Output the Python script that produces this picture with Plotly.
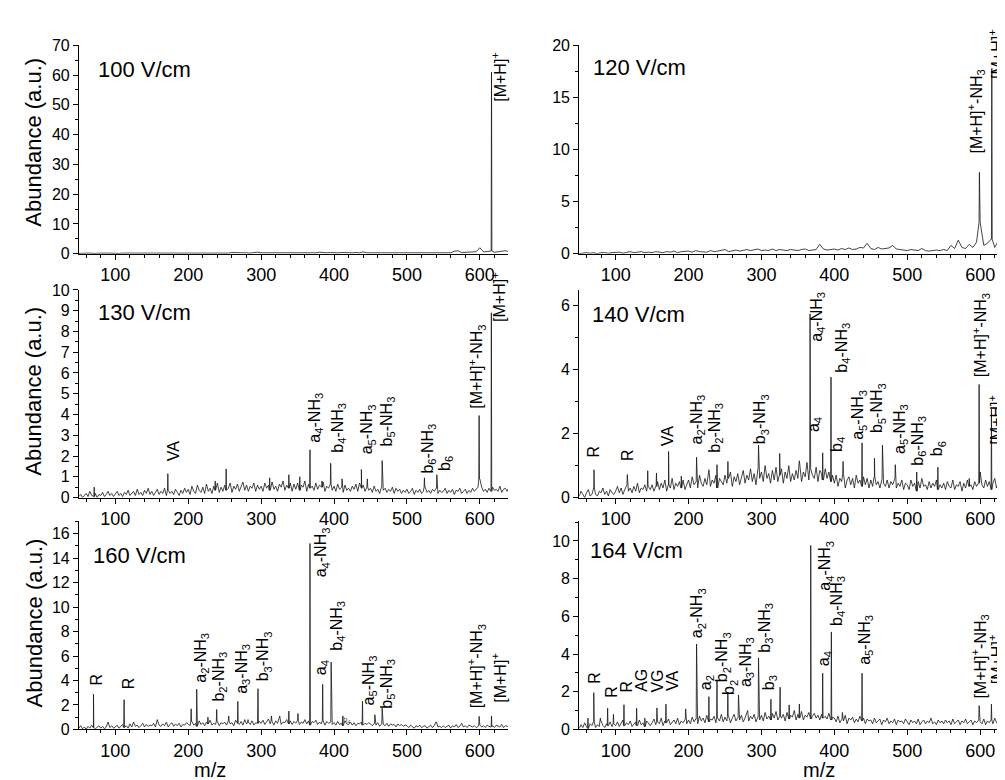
import plotly.graph_objects as go

FONT = "Arial, 'Liberation Sans', Helvetica, sans-serif"

# ---------------- data ----------------
MZ_START = 50
fields = ["100 V/cm", "120 V/cm", "130 V/cm", "140 V/cm", "160 V/cm", "164 V/cm"]
noise_steps = [5, 5, 2.5, 2.5, 2.5, 2.5]   # m/z spacing of background samples per panel

noise_100 = [0.1, 0.2, 0.1, 0.2, 0.1, 0.2, 0.1, 0.2, 0.2, 0.1,
             0.2, 0.1, 0.2, 0.2, 0.1, 0.2, 0.1, 0.2, 0.2, 0.1,
             0.2, 0.2, 0.1, 0.2, 0.3, 0.2, 0.2, 0.1, 0.2, 0.2,
             0.3, 0.2, 0.2, 0.3, 0.2, 0.3, 0.2, 0.2, 0.3, 0.3,
             0.3, 0.2, 0.4, 0.3, 0.2, 0.3, 0.3, 0.2, 0.4, 0.5,
             0.3, 0.3, 0.2, 0.4, 0.3, 0.3, 0.2, 0.3, 0.4, 0.3,
             0.3, 0.4, 0.3, 0.2, 0.4, 0.3, 0.5, 0.3, 0.3, 0.4,
             0.3, 0.3, 0.4, 0.3, 0.3, 0.3, 0.4, 0.3, 0.6, 0.3,
             0.3, 0.4, 0.3, 0.3, 0.4, 0.3, 0.3, 0.4, 0.3, 0.3,
             0.3, 0.3, 0.4, 0.3, 0.3, 0.2, 0.3, 0.4, 0.3, 0.3,
             0.3, 0.4, 0.3, 0.8, 1.0, 0.4, 0.4, 0.5, 0.6, 0.7,
             2.0, 0.6, 0.8, 0.9, 0.5, 0.6, 0.8, 1.0, 0.7, 1.4]
peak_mz_100 = [616.0]
peak_h_100 = [61.0]

noise_120 = [0.0, 0.05, 0.1, 0.05, 0.1, 0.0, 0.1, 0.1, 0.05, 0.1,
             0.1, 0.15, 0.05, 0.1, 0.2, 0.1, 0.15, 0.2, 0.1, 0.15,
             0.1, 0.2, 0.15, 0.1, 0.2, 0.15, 0.25, 0.1, 0.2, 0.2,
             0.25, 0.15, 0.3, 0.2, 0.2, 0.15, 0.3, 0.2, 0.25, 0.3,
             0.4, 0.2, 0.3, 0.35, 0.25, 0.3, 0.4, 0.3, 0.35, 0.45,
             0.3, 0.35, 0.3, 0.45, 0.3, 0.4, 0.35, 0.3, 0.4, 0.35,
             0.3, 0.4, 0.45, 0.3, 0.35, 0.4, 0.9, 0.45, 0.35, 0.4,
             0.45, 0.35, 0.5, 0.4, 0.55, 0.4, 0.45, 0.6, 0.55, 1.0,
             0.5, 0.4, 0.6, 0.45, 0.5, 0.55, 0.8, 0.45, 0.4, 0.35,
             0.3, 0.4, 0.35, 0.3, 0.5, 0.3, 0.25, 0.3, 0.35, 0.3,
             0.4, 0.3, 0.8, 0.5, 1.3, 0.6, 0.5, 0.9, 0.6, 1.1,
             3.0, 0.8, 1.0, 1.4, 0.6, 1.2, 1.9, 0.9, 0.7, 1.0]
peak_mz_120 = [599.0, 616.0]
peak_h_120 = [7.8, 17.8]

noise_130 = [0.05, 0.15, 0.0, 0.1, 0.2, 0.05, 0.3, 0.1, 0.05, 0.2, 0.0, 0.15, 0.1, 0.25, 0.05, 0.15, 0.3, 0.1, 0.2, 0.05,
             0.15, 0.3, 0.1, 0.2, 0.05, 0.25, 0.15, 0.35, 0.1, 0.2, 0.3, 0.1, 0.4, 0.15, 0.25, 0.1, 0.35, 0.2, 0.45, 0.15,
             0.3, 0.1, 0.25, 0.4, 0.15, 0.3, 0.2, 0.45, 0.1, 0.35, 0.2, 0.3, 0.15, 0.4, 0.25, 0.1, 0.35, 0.2, 0.45, 0.25,
             0.4, 0.15, 0.55, 0.3, 0.2, 0.6, 0.35, 0.25, 0.5, 0.2, 0.65, 0.3, 0.45, 0.2, 0.55, 0.35, 0.7, 0.25, 0.5, 0.3,
             0.6, 0.35, 0.45, 0.7, 0.25, 0.55, 0.4, 0.65, 0.3, 0.5, 0.75, 0.35, 0.6, 0.3, 0.55, 0.45, 0.7, 0.3, 0.6, 0.4,
             0.55, 0.3, 0.7, 0.45, 0.6, 0.35, 0.75, 0.4, 0.55, 0.3, 0.65, 0.5, 0.8, 0.35, 0.6, 0.45, 0.7, 0.3, 0.65, 0.4,
             0.7, 0.35, 0.6, 0.5, 0.8, 0.3, 0.65, 0.45, 0.55, 0.35, 0.7, 0.4, 0.6, 0.5, 0.75, 0.3, 0.55, 0.45, 0.65, 0.35,
             0.55, 0.3, 0.65, 0.4, 0.5, 0.25, 0.6, 0.35, 0.45, 0.3, 0.55, 0.4, 0.65, 0.3, 0.7, 0.45, 0.6, 0.3, 0.5, 0.35,
             0.45, 0.25, 0.55, 0.3, 0.4, 0.2, 0.5, 0.35, 0.45, 0.25, 0.4, 0.3, 0.5, 0.2, 0.45, 0.3, 0.4, 0.2, 0.35, 0.25,
             0.4, 0.2, 0.3, 0.45, 0.15, 0.35, 0.25, 0.4, 0.2, 0.3, 0.5, 0.25, 0.35, 0.2, 0.4, 0.3, 0.45, 0.2, 0.35, 0.25,
             0.3, 0.45, 0.2, 0.35, 0.25, 0.4, 0.15, 0.35, 0.3, 0.45, 0.2, 0.3, 0.4, 0.2, 0.35, 0.25, 0.45, 0.3, 0.4, 0.5,
             0.9, 0.5, 0.3, 0.4, 0.25, 0.45, 0.3, 0.5, 0.35, 0.4, 0.3, 0.55, 0.25, 0.4, 0.45, 0.3, 0.5, 0.35, 0.4, 0.3]
peak_mz_130 = [71, 172, 237, 252, 311.7, 338, 353, 367, 383.5, 395.4, 411,
               437.5, 445.7, 466, 524, 541, 599, 615.8]
peak_h_130 = [0.5, 1.15, 0.8, 1.38, 0.95, 1.1, 1.0, 2.3, 0.8, 1.65, 0.9,
              1.35, 0.9, 1.78, 0.95, 1.1, 3.95, 8.9]

noise_140 = [0.05, 0.2, 0.1, 0.0, 0.15, 0.25, 0.05, 0.1, 0.3, 0.1, 0.05, 0.2, 0.15, 0.3, 0.1, 0.2, 0.05, 0.25, 0.15, 0.1,
             0.2, 0.35, 0.15, 0.3, 0.1, 0.25, 0.4, 0.2, 0.3, 0.15, 0.35, 0.2, 0.45, 0.15, 0.3, 0.25, 0.4, 0.2, 0.35, 0.25,
             0.4, 0.2, 0.35, 0.5, 0.25, 0.45, 0.3, 0.55, 0.2, 0.4, 0.3, 0.6, 0.25, 0.45, 0.35, 0.5, 0.3, 0.55, 0.25, 0.4,
             0.55, 0.3, 0.65, 0.4, 0.5, 0.3, 0.7, 0.45, 0.35, 0.6, 0.4, 0.75, 0.35, 0.55, 0.45, 0.7, 0.3, 0.6, 0.5, 0.4,
             0.7, 0.45, 0.6, 0.8, 0.35, 0.65, 0.5, 0.75, 0.4, 0.6, 0.85, 0.45, 0.7, 0.55, 0.9, 0.5, 0.75, 0.4, 0.95, 0.6,
             0.8, 0.5, 1.0, 0.6, 0.75, 0.45, 0.85, 0.55, 0.95, 0.5, 0.7, 0.9, 0.45, 0.8, 0.6, 1.0, 0.5, 0.75, 0.55, 0.85,
             0.6, 1.05, 0.5, 0.8, 0.65, 1.1, 0.55, 0.9, 0.7, 0.6, 0.95, 0.5, 0.85, 0.75, 0.55, 0.9, 0.6, 0.8, 0.5, 0.7,
             0.45, 0.7, 0.35, 0.6, 0.5, 0.75, 0.3, 0.55, 0.65, 0.4, 0.6, 0.3, 0.7, 0.45, 0.55, 0.35, 0.65, 0.4, 0.6, 0.3,
             0.55, 0.35, 0.65, 0.4, 0.5, 0.3, 0.6, 0.45, 0.35, 0.55, 0.3, 0.5, 0.4, 0.6, 0.3, 0.45, 0.35, 0.55, 0.25, 0.45,
             0.4, 0.25, 0.55, 0.35, 0.45, 0.2, 0.5, 0.3, 0.6, 0.35, 0.4, 0.25, 0.5, 0.3, 0.45, 0.35, 0.55, 0.25, 0.4, 0.3,
             0.45, 0.25, 0.5, 0.35, 0.3, 0.55, 0.25, 0.4, 0.35, 0.5, 0.2, 0.45, 0.3, 0.55, 0.35, 0.4, 0.25, 0.5, 0.35, 0.45,
             0.8, 0.4, 0.3, 0.55, 0.35, 0.5, 0.25, 0.45, 0.6, 0.3, 0.5, 0.35, 0.45, 0.25, 0.55, 0.4, 0.6, 0.3, 0.5, 0.4]
peak_mz_140 = [70.3, 116, 144, 156, 172.6, 190, 211, 228, 239, 254, 296, 325,
               352, 366.7, 384, 395.4, 412, 438, 455, 466, 483.6, 513, 542,
               585, 598.6, 615.5, 640]
peak_h_140 = [0.87, 0.72, 0.84, 0.77, 1.44, 0.67, 1.26, 0.87, 1.03, 1.13, 1.64,
              1.38, 1.15, 5.75, 1.4, 3.77, 1.13, 1.71, 1.23, 1.64, 1.03, 0.8,
              0.95, 0.6, 3.54, 2.77, 0.6]

noise_160 = [0.1, 0.3, 0.05, 0.2, 0.0, 0.25, 0.1, 0.35, 0.15, 0.05, 0.2, 0.3, 0.1, 0.25, 0.05, 0.2, 0.6, 0.15, 0.3, 0.1,
             0.2, 0.35, 0.1, 0.25, 0.4, 0.15, 0.3, 0.1, 0.45, 0.2, 0.6, 0.25, 0.35, 0.15, 0.3, 0.5, 0.2, 0.4, 0.25, 0.35,
             0.3, 0.5, 0.2, 0.8, 0.35, 0.25, 0.45, 0.3, 0.6, 0.2, 0.4, 0.55, 0.25, 0.45, 0.3, 0.5, 0.2, 0.4, 0.35, 0.55,
             0.45, 0.3, 0.65, 0.35, 0.5, 0.25, 0.7, 0.4, 0.55, 0.3, 0.6, 0.45, 0.75, 0.35, 0.5, 0.4, 0.65, 0.3, 0.55, 0.45,
             0.6, 0.35, 0.7, 0.45, 0.55, 0.3, 0.75, 0.5, 0.4, 0.65, 0.35, 0.8, 0.45, 0.6, 0.4, 0.7, 0.35, 0.55, 0.5, 0.65,
             0.5, 0.75, 0.4, 0.6, 0.85, 0.45, 0.65, 0.35, 0.7, 0.5, 0.9, 0.4, 0.6, 0.55, 0.8, 0.45, 0.7, 0.4, 0.65, 0.5,
             0.75, 0.4, 0.6, 0.5, 0.8, 0.45, 0.7, 0.35, 0.65, 0.55, 0.75, 0.4, 0.6, 0.45, 0.7, 0.35, 0.65, 0.5, 0.6, 0.4,
             0.55, 0.35, 0.65, 0.4, 0.5, 0.3, 0.7, 0.45, 0.4, 0.6, 0.35, 0.55, 0.3, 0.5, 0.45, 0.6, 0.35, 0.5, 0.4, 0.55,
             0.45, 0.3, 0.5, 0.35, 0.55, 0.25, 0.45, 0.4, 0.3, 0.5, 0.25, 0.45, 0.35, 0.4, 0.2, 0.45, 0.3, 0.4, 0.25, 0.35,
             0.3, 0.15, 0.35, 0.25, 0.1, 0.3, 0.2, 0.35, 0.15, 0.25, 0.3, 0.1, 0.25, 0.35, 0.15, 0.3, 0.6, 0.2, 0.25, 0.15,
             0.3, 0.15, 0.25, 0.35, 0.1, 0.3, 0.2, 0.4, 0.15, 0.25, 0.5, 0.2, 0.3, 0.15, 0.35, 0.25, 0.2, 0.3, 0.15, 0.25,
             0.35, 0.2, 0.3, 0.15, 0.35, 0.25, 0.2, 0.3, 0.15, 0.35, 0.25, 0.2, 0.4, 0.15, 0.3, 0.25, 0.35, 0.2, 0.3, 0.25]
peak_mz_160 = [70, 112, 204, 211.6, 227, 239, 255.5, 268, 282, 295.7, 314,
               325.5, 338, 350.5, 367, 384.4, 396, 412, 439, 456, 466, 540,
               599, 616]
peak_h_160 = [2.88, 2.43, 1.68, 3.28, 1.0, 1.63, 1.1, 2.29, 0.8, 3.33, 1.1,
              1.1, 1.5, 1.3, 15.2, 3.68, 5.5, 1.1, 2.3, 1.2, 1.73, 0.6,
              1.07, 1.1]

noise_164 = [0.05, 0.25, 0.1, 0.35, 0.15, 0.05, 0.3, 0.2, 0.4, 0.1, 0.25, 0.15, 0.45, 0.2, 0.1, 0.3, 0.2, 0.4, 0.15, 0.3,
             0.2, 0.4, 0.15, 0.3, 0.5, 0.2, 0.35, 0.25, 0.45, 0.15, 0.3, 0.4, 0.2, 0.5, 0.25, 0.35, 0.15, 0.45, 0.3, 0.2,
             0.35, 0.55, 0.25, 0.4, 0.3, 0.6, 0.2, 0.45, 0.35, 0.55, 0.25, 0.4, 0.5, 0.3, 0.6, 0.25, 0.45, 0.35, 0.55, 0.3,
             0.5, 0.3, 0.65, 0.4, 0.55, 0.3, 0.7, 0.45, 0.6, 0.35, 0.75, 0.4, 0.55, 0.5, 0.7, 0.35, 0.6, 0.45, 0.8, 0.4,
             0.65, 0.45, 0.7, 0.35, 0.6, 0.8, 0.45, 0.65, 0.5, 0.75, 0.4, 0.6, 0.85, 0.45, 0.7, 0.55, 0.8, 0.4, 0.65, 0.5,
             0.75, 0.45, 0.9, 0.55, 0.7, 0.5, 0.85, 0.6, 0.95, 0.5, 0.7, 0.6, 0.8, 0.45, 0.9, 0.55, 0.75, 0.65, 1.0, 0.5,
             0.8, 0.6, 0.95, 0.5, 0.75, 0.65, 0.9, 0.55, 0.7, 0.85, 0.6, 0.75, 0.5, 0.8, 0.6, 0.7, 0.55, 0.85, 0.5, 0.65,
             0.6, 0.4, 0.7, 0.35, 0.55, 0.45, 0.75, 0.3, 0.6, 0.5, 0.65, 0.35, 0.55, 0.4, 0.7, 0.45, 0.6, 0.3, 0.55, 0.45,
             0.5, 0.3, 0.6, 0.35, 0.45, 0.55, 0.25, 0.5, 0.4, 0.6, 0.3, 0.45, 0.35, 0.55, 0.25, 0.5, 0.4, 0.45, 0.3, 0.55,
             0.4, 0.25, 0.5, 0.35, 0.45, 0.3, 0.55, 0.25, 0.4, 0.5, 0.3, 0.45, 0.35, 0.6, 0.3, 0.4, 0.25, 0.5, 0.35, 0.45,
             0.3, 0.5, 0.35, 0.45, 0.25, 0.55, 0.3, 0.4, 0.5, 0.25, 0.45, 0.35, 0.55, 0.3, 0.4, 0.5, 0.25, 0.45, 0.35, 0.5,
             0.4, 0.3, 0.55, 0.25, 0.45, 0.35, 0.5, 0.3, 0.6, 0.35, 0.4, 0.5, 0.3, 0.45, 0.35, 0.55, 0.3, 0.4, 0.5, 0.35]
peak_mz_164 = [62, 70, 79, 89, 97, 111.4, 128.8, 140, 156.6, 169, 196, 211,
               227.9, 239, 253.9, 268.5, 281, 296, 313, 325.6, 338, 352,
               367.6, 384, 395.9, 411, 438, 598.6, 615.5]
peak_h_164 = [0.6, 1.95, 0.6, 1.12, 0.8, 1.31, 1.12, 0.6, 1.14, 1.34, 1.09, 4.53,
              1.74, 2.59, 1.98, 1.83, 1.0, 3.79, 1.6, 2.24, 1.3, 1.35,
              9.76, 2.98, 5.17, 0.9, 2.98, 1.26, 1.34]

# peak labels (text, m/z, abundance at bottom of the rotated label)
A2N = "a<sub>2</sub>-NH<sub>3</sub>"
A3N = "a<sub>3</sub>-NH<sub>3</sub>"
A4N = "a<sub>4</sub>-NH<sub>3</sub>"
A5N = "a<sub>5</sub>-NH<sub>3</sub>"
B2N = "b<sub>2</sub>-NH<sub>3</sub>"
B3N = "b<sub>3</sub>-NH<sub>3</sub>"
B4N = "b<sub>4</sub>-NH<sub>3</sub>"
B5N = "b<sub>5</sub>-NH<sub>3</sub>"
B6N = "b<sub>6</sub>-NH<sub>3</sub>"
MH = "[M+H]<sup>+</sup>"
MHN = "[M+H]<sup>+</sup>-NH<sub>3</sub>"

lab_text_100 = [MH]
lab_mz_100 = [626]
lab_y_100 = [50.3]

lab_text_120 = [MHN, MH]
lab_mz_120 = [594, 622]
lab_y_120 = [9.4, 16.6]

lab_text_130 = ["VA", A4N, B4N, A5N, B5N, B6N, "b<sub>6</sub>", MHN, MH]
lab_mz_130 = [179, 375, 405.6, 445.6, 473, 530, 552, 595, 626]
lab_y_130 = [1.65, 2.54, 2.07, 2.0, 2.38, 1.05, 1.2, 4.19, 8.35]

lab_text_140 = ["R", "R", "VA", A2N, B2N, B3N, A4N, "a<sub>4</sub>", B4N,
                "b<sub>4</sub>", A5N, B5N, A5N, B6N, "b<sub>6</sub>", MHN, MH]
lab_mz_140 = [69, 116, 170.6, 211.6, 236.7, 299, 376.5, 372, 410.6,
              405, 434, 460, 490, 515, 541.8, 601, 622]
lab_y_140 = [1.19, 1.09, 1.55, 1.6, 1.35, 1.6, 4.82, 2.0, 3.85,
             1.35, 1.75, 1.96, 1.3, 0.94, 1.24, 3.7, 1.6]

lab_text_160 = ["R", "R", A2N, B2N, A3N, B3N, A4N, "a<sub>4</sub>", B4N,
                A5N, B5N, MHN, MH]
lab_mz_160 = [74.5, 117.8, 218, 243, 275, 304.5, 384, 382, 404.6,
              448, 473, 596, 626]
lab_y_160 = [3.4, 3.14, 3.68, 2.08, 2.74, 3.8, 12.3, 4.3, 6.3,
             1.8, 1.55, 1.55, 2.0]

lab_text_164 = ["R", "R", "R", "AG", "VG", "VA", A2N, "a<sub>2</sub>", B2N,
                "b<sub>2</sub>", A3N, B3N, "b<sub>3</sub>", A4N, "a<sub>4</sub>",
                B4N, A5N, MHN, MH]
lab_mz_164 = [70, 93.3, 114.6, 135, 158, 178, 212.6, 224, 247,
              257, 278.5, 306, 310.5, 388, 386.6, 404, 442.5, 599.6, 622]
lab_y_164 = [2.3, 1.56, 1.87, 1.87, 1.87, 1.9, 4.72, 1.95, 2.39,
             1.7, 2.13, 3.95, 1.95, 7.23, 3.25, 5.4, 3.34, 1.52, 2.3]

y_max = [70, 20, 10, 6.5, 17.06, 11.07]
y_dtick = [10, 5, 1, 2, 2, 2]
y_minor = [5, 2.5, 0.5, 1, 1, 1]

# ---------------- layout geometry (paper fractions) ----------------
W, H = 1005, 780
left_dom = [70.9 / W, 500 / W]
right_dom = [571.2 / W, 1.0]
x_scale = 0.729  # px per m/z unit
left_range = [50, 50 + (500 - 70.9) / x_scale]
right_range = [50, 50 + (1005 - 571.2) / x_scale]
row_dom = [[(H - 243) / H, (H - 30) / H],
           [(H - 492.3) / H, (H - 280) / H],
           [(H - 729.3) / H, (H - 516) / H]]

noises = [noise_100, noise_120, noise_130, noise_140, noise_160, noise_164]
pk_mzs = [peak_mz_100, peak_mz_120, peak_mz_130, peak_mz_140, peak_mz_160, peak_mz_164]
pk_hs = [peak_h_100, peak_h_120, peak_h_130, peak_h_140, peak_h_160, peak_h_164]
lab_texts = [lab_text_100, lab_text_120, lab_text_130, lab_text_140, lab_text_160, lab_text_164]
lab_mzs = [lab_mz_100, lab_mz_120, lab_mz_130, lab_mz_140, lab_mz_160, lab_mz_164]
lab_ys = [lab_y_100, lab_y_120, lab_y_130, lab_y_140, lab_y_160, lab_y_164]


def spectrum(noise, step, pmz, ph):
    mz = [MZ_START + step * i for i in range(len(noise))]
    pts = list(zip(mz, noise))
    for m, h in zip(pmz, ph):
        i = min(int(round((m - MZ_START) / step)), len(noise) - 1)
        foot = noise[i]
        pts += [(m - 0.5, foot), (m, h), (m + 0.5, foot)]
    pts.sort()
    return [p[0] for p in pts], [p[1] for p in pts]


fig = go.Figure()
annotations = []
layout_axes = {}

for k in range(6):
    idx = "" if k == 0 else str(k + 1)
    col = k % 2
    row = k // 2
    xs, ys = spectrum(noises[k], noise_steps[k], pk_mzs[k], pk_hs[k])
    fig.add_trace(go.Scatter(x=xs, y=ys, mode="lines", xaxis="x" + idx, yaxis="y" + idx,
                             line=dict(color="#151515", width=0.8), showlegend=False,
                             hoverinfo="skip"))
    layout_axes["xaxis" + idx] = dict(
        domain=left_dom if col == 0 else right_dom,
        range=left_range if col == 0 else right_range,
        anchor="y" + idx, showline=True, linecolor="black", linewidth=1,
        ticks="outside", ticklen=5, tickwidth=1, tickcolor="black",
        tick0=0, dtick=100, showgrid=False, zeroline=False,
        tickfont=dict(family=FONT, size=18, color="black"),
        minor=dict(ticks="outside", ticklen=3, tickcolor="black", dtick=20, tick0=0,
                   showgrid=False),
    )
    layout_axes["yaxis" + idx] = dict(
        domain=row_dom[row], range=[0, y_max[k]], anchor="x" + idx,
        showline=True, linecolor="black", linewidth=1,
        ticks="outside", ticklen=5, tickwidth=1, tickcolor="black",
        tick0=0, dtick=y_dtick[k], showgrid=False, zeroline=False,
        tickfont=dict(family=FONT, size=16, color="black"),
        minor=dict(ticks="outside", ticklen=3, tickcolor="black", dtick=y_minor[k], tick0=0,
                   showgrid=False),
    )
    for t, m, y in zip(lab_texts[k], lab_mzs[k], lab_ys[k]):
        annotations.append(dict(
            x=m, y=y, xref="x" + idx, yref="y" + idx, text=t, showarrow=False,
            textangle=-90, xanchor="center", yanchor="bottom",
            font=dict(family=FONT, size=16, color="black")))

# tiny b4 mark in the 160 V/cm panel
annotations.append(dict(x=418, y=0.75, xref="x5", yref="y5", text="b<sub>4</sub>",
                        showarrow=False, font=dict(family=FONT, size=8, color="#555555")))

# field strength captions
caption_px = [(88, 55), (583, 53), (88, 303), (582, 305), (83, 552), (580, 546)]
for k, (px, py) in enumerate(caption_px):
    annotations.append(dict(x=px / W, y=1 - py / H, xref="paper", yref="paper",
                            text=fields[k], showarrow=False, xanchor="left", yanchor="middle",
                            font=dict(family=FONT, size=22, color="black")))

# axis titles
for py in (129.5, 384, 621):
    annotations.append(dict(x=26 / W, y=1 - py / H, xref="paper", yref="paper",
                            text="Abundance (a.u.)", showarrow=False, textangle=-90,
                            xanchor="center", yanchor="middle",
                            font=dict(family=FONT, size=22, color="black")))
for px in (201.7, 811):
    annotations.append(dict(x=px / W, y=1 - 771 / H, xref="paper", yref="paper",
                            text="m/z", showarrow=False, xanchor="center", yanchor="middle",
                            font=dict(family=FONT, size=20, color="black")))

fig.update_layout(width=W, height=H, margin=dict(l=0, r=0, t=0, b=0),
                  paper_bgcolor="white", plot_bgcolor="white",
                  annotations=annotations, **layout_axes)

fig.write_html("out.html")
